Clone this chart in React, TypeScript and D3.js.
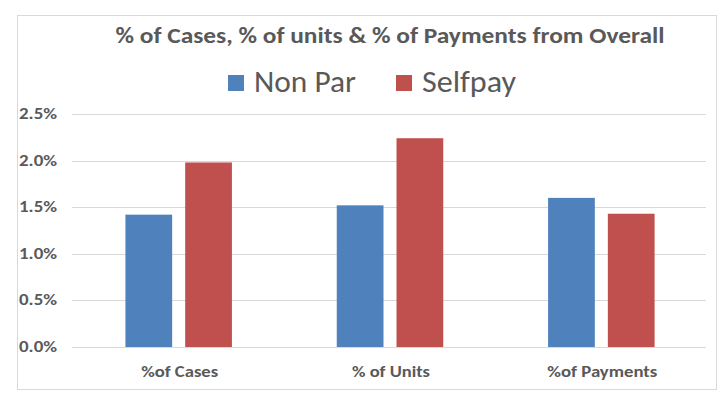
import { useEffect, useRef } from "react";
import * as d3 from "d3";

const categories = ["%of Cases", "% of Units", "%of Payments"];
const categoryWidths = [77, 78, 110];
const seriesNames = ["Non Par", "Selfpay"];
const nonPar = [0.0142, 0.0152, 0.016];
const selfpay = [0.0198, 0.0224, 0.0143];
const yTicks = [0, 0.005, 0.01, 0.015, 0.02, 0.025];
const colors = ["#4F81BD", "#C0504D"];

const FONT = "Carlito, Calibri, 'Liberation Sans Narrow', 'Open Sans', sans-serif";

export default function App(): JSX.Element {
  const ref = useRef<SVGSVGElement | null>(null);

  useEffect(() => {
    if (!ref.current) return;
    const width = 727;
    const height = 399;
    const svg = d3.select(ref.current).attr("width", width).attr("height", height);
    svg.selectAll("*").remove();

    svg.append("rect").attr("width", width).attr("height", height).attr("fill", "#fff");

    // chart area border
    svg
      .append("rect")
      .attr("x", 17.5)
      .attr("y", 15.5)
      .attr("width", 699)
      .attr("height", 374)
      .attr("fill", "none")
      .attr("stroke", "#D9D9D9");

    const x0 = d3.scaleBand<string>().domain(categories).range([73, 707]);
    const groupW = 106.5;
    const x1 = d3.scaleBand<string>().domain(seriesNames).range([0, groupW]).paddingInner(0.218);
    const y = d3.scaleLinear().domain([0, 0.025]).range([347, 114]);
    const fmt = d3.format(".1%");

    // gridlines
    svg
      .append("g")
      .selectAll("line")
      .data(yTicks)
      .join("line")
      .attr("x1", 72)
      .attr("x2", 706)
      .attr("y1", (d) => Math.round(y(d)) + 0.5)
      .attr("y2", (d) => Math.round(y(d)) + 0.5)
      .attr("stroke", "#D9D9D9");

    svg
      .append("g")
      .selectAll("text")
      .data(yTicks)
      .join("text")
      .attr("x", 57)
      .attr("y", (d) => y(d) + 5)
      .attr("text-anchor", "end")
      .attr("font-family", FONT)
      .attr("font-weight", "bold")
      .attr("font-size", 15)
      .attr("fill", "#595959")
      .attr("textLength", 38)
      .attr("lengthAdjust", "spacingAndGlyphs")
      .text((d) => fmt(d));

    const rows = categories.map((c, i) => ({ c, vals: [nonPar[i], selfpay[i]] }));
    const groups = svg
      .append("g")
      .selectAll("g")
      .data(rows)
      .join("g")
      .attr("transform", (d) => `translate(${(x0(d.c) ?? 0) + (x0.bandwidth() - groupW) / 2},0)`);

    groups
      .selectAll("rect")
      .data((d) => d.vals.map((v, j) => ({ v, s: seriesNames[j], j })))
      .join("rect")
      .attr("x", (d) => x1(d.s) ?? 0)
      .attr("width", x1.bandwidth())
      .attr("y", (d) => y(d.v))
      .attr("height", (d) => y(0) - y(d.v))
      .attr("fill", (d) => colors[d.j]);

    svg
      .append("g")
      .selectAll("text")
      .data(categories)
      .join("text")
      .attr("x", (d) => (x0(d) ?? 0) + x0.bandwidth() / 2 + 1)
      .attr("y", 377)
      .attr("text-anchor", "middle")
      .attr("font-family", FONT)
      .attr("font-weight", "bold")
      .attr("font-size", 16.5)
      .attr("fill", "#595959")
      .attr("textLength", (d, i) => categoryWidths[i])
      .attr("lengthAdjust", "spacingAndGlyphs")
      .text((d) => d);

    // title
    svg
      .append("text")
      .attr("x", 390)
      .attr("y", 43)
      .attr("text-anchor", "middle")
      .attr("font-family", FONT)
      .attr("font-weight", "bold")
      .attr("font-size", 22)
      .attr("fill", "#595959")
      .attr("textLength", 549)
      .attr("lengthAdjust", "spacingAndGlyphs")
      .text("% of Cases, % of units & % of Payments from Overall");

    // legend
    const legend = [
      { name: seriesNames[0], sx: 228, tx: 254, tw: 102 },
      { name: seriesNames[1], sx: 396, tx: 422, tw: 94 },
    ];
    const lg = svg.append("g");
    lg.selectAll("rect")
      .data(legend)
      .join("rect")
      .attr("x", (d) => d.sx)
      .attr("y", 75)
      .attr("width", 16)
      .attr("height", 16)
      .attr("fill", (d, i) => colors[i]);
    lg.selectAll("text")
      .data(legend)
      .join("text")
      .attr("x", (d) => d.tx)
      .attr("y", 92)
      .attr("font-family", FONT)
      .attr("font-size", 30)
      .attr("fill", "#595959")
      .attr("textLength", (d) => d.tw)
      .attr("lengthAdjust", "spacingAndGlyphs")
      .text((d) => d.name);
  }, []);

  return (
    <div style={{ position: "absolute", left: 0, top: 0 }}>
      <svg ref={ref} />
    </div>
  );
}
